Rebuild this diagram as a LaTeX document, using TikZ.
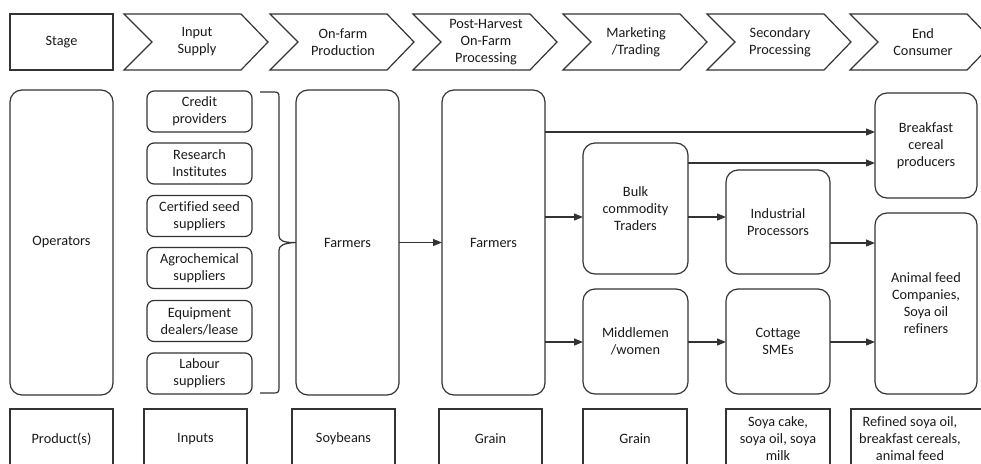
\documentclass[tikz,border=0pt]{standalone}
\usepackage{fontspec}
\setmainfont[Ligatures=CommonOff]{Carlito}
\usetikzlibrary{arrows.meta,calc}
\definecolor{ln}{HTML}{333333}
\definecolor{tx}{HTML}{1A1A1A}
\begin{document}
\begin{tikzpicture}[x=1pt,y=-1pt,
  every node/.style={font=\fontsize{14.3}{17}\selectfont, text=tx, align=center, inner sep=0pt, outer sep=0pt},
  ln/.style={draw=ln, line width=1.2pt},
  rbox/.style={ln, rounded corners=12pt},
  sbox/.style={ln, rounded corners=7pt, minimum width=105pt, minimum height=41pt},
  pbox/.style={ln, minimum height=60pt},
  arr/.style={draw=ln, line width=1.2pt, -{Triangle[length=9pt,width=7pt]}},
  chevron/.style={ln, line join=miter}
]
\useasboundingbox (0,0) rectangle (981,463);
\clip (0,0) rectangle (981,463);

% header
\node[ln, minimum width=103pt, minimum height=56pt] (stage) at (61.5,42) {Stage};
\foreach \L/\nm/\txt in {124/h1/{Input\\Supply}, 270/h2/{On-farm\\Production}, 413/h3/{Post-Harvest\\On-Farm\\Processing}, 563/h4/{Marketing\\/Trading}, 707/h5/{Secondary\\Processing}, 850/h6/{End\\Consumer}}{
  \draw[chevron] (\L,14) -- (\L+117,14) -- (\L+144,42) -- (\L+117,70) -- (\L,70) -- (\L+28,42) -- cycle;
  \node (\nm) at (\L+73,42) {\txt};
}

% operators row
\node[rbox, minimum width=103pt, minimum height=305pt] (ops) at (61.5,242.5) {Operators};
\node[sbox] (cred) at (199.5,111.5) {Credit\\providers};
\node[sbox] (res) at (199.5,163.5) {Research\\Institutes};
\node[sbox] (seed) at (199.5,216) {Certified seed\\suppliers};
\node[sbox] (agro) at (199.5,268) {Agrochemical\\suppliers};
\node[sbox] (equip) at (199.5,321) {Equipment\\dealers/lease};
\node[sbox] (lab) at (199.5,373.5) {Labour\\suppliers};

\node[rbox, minimum width=103pt, minimum height=305pt] (farm1) at (347.5,242.5) {Farmers};
\node[rbox, minimum width=103pt, minimum height=305pt] (farm2) at (493.5,242.5) {Farmers};

\node[rbox, minimum width=105pt, minimum height=131pt] (bulk) at (635.5,208.5) {Bulk\\commodity\\Traders};
\node[rbox, minimum width=105pt, minimum height=105pt] (mid) at (635.5,341.5) {Middlemen\\/women};
\node[rbox, minimum width=104pt, minimum height=104pt] (ind) at (778,222) {Industrial\\Processors};
\node[rbox, minimum width=104pt, minimum height=105pt] (cot) at (778,341.5) {Cottage\\SMEs};
\node[rbox, minimum width=102pt, minimum height=105pt] (brk) at (926,145.5) {Breakfast\\cereal\\producers};
\node[rbox, minimum width=102pt, minimum height=181pt] (ani) at (926,303.5) {Animal feed\\Companies,\\Soya oil\\refiners};

% brace
\draw[ln] (260,92) -- (274,92) .. controls (278,92) and (279,93) .. (279,97) -- (279,236)
  .. controls (279,240) and (283,243) .. (farm1.west)
  .. controls (283,243) and (279,246) .. (279,250) -- (279,388)
  .. controls (279,392) and (278,393) .. (274,393) -- (260,393);

% arrows
\draw[arr] (farm1.east) -- (farm2.west);
\draw[arr] (farm2.east |- 0,132) -- (brk.west |- 0,132);
\draw[arr] (bulk.east |- 0,163) -- (brk.west |- 0,163);
\draw[arr] (farm2.east |- 0,217) -- (bulk.west |- 0,217);
\draw[arr] (bulk.east |- 0,217) -- (ind.west |- 0,217);
\draw[arr] (ind.east |- 0,243) -- (ani.west |- 0,243);
\draw[arr] (farm2.east |- 0,342) -- (mid.west |- 0,342);
\draw[arr] (mid.east |- 0,342) -- (cot.west |- 0,342);
\draw[arr] (cot.east |- 0,342) -- (ani.west |- 0,342);

% products row
\node[pbox, minimum width=103pt] (prod) at (61.5,439) {Product(s)};
\node[pbox, minimum width=103pt] (inp) at (195.5,439) {Inputs};
\node[pbox, minimum width=103pt] (soy) at (343.5,439) {Soybeans};
\node[pbox, minimum width=103pt] (gr1) at (490.5,439) {Grain};
\node[pbox, minimum width=104pt] (gr2) at (635,439) {Grain};
\node[pbox, minimum width=104pt] (cake) at (778,439) {Soya cake,\\soya oil, soya\\milk};
\node[minimum width=118pt, minimum height=60pt] (ref) at (910,439) {Refined soya oil,\\breakfast cereals,\\animal feed};
\draw[ln] (ref.north west) rectangle ([xshift=30pt]ref.south east);
\end{tikzpicture}
\end{document}
